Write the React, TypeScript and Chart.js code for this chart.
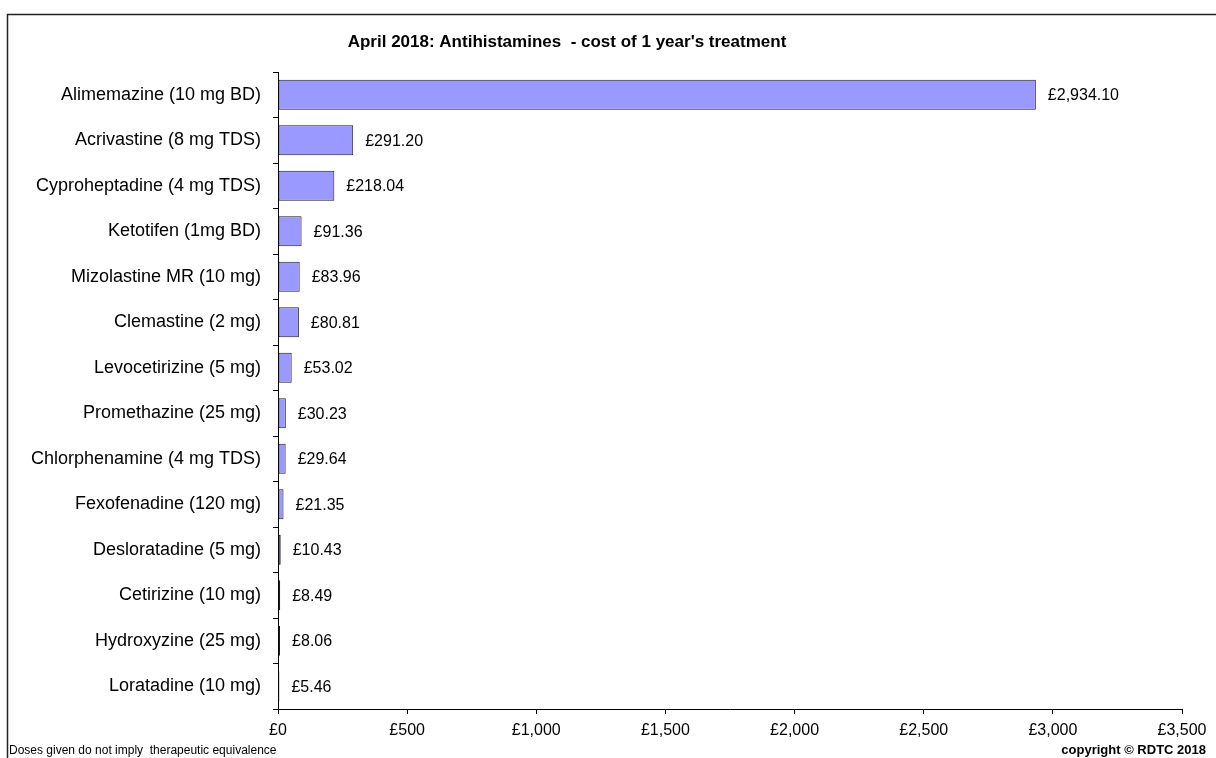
import React, { useEffect, useRef } from "react";
import { Chart, registerables } from "chart.js";

Chart.register(...registerables);

const categories: string[] = [
  "Alimemazine (10 mg BD)",
  "Acrivastine (8 mg TDS)",
  "Cyproheptadine (4 mg TDS)",
  "Ketotifen (1mg BD)",
  "Mizolastine MR (10 mg)",
  "Clemastine (2 mg)",
  "Levocetirizine (5 mg)",
  "Promethazine (25 mg)",
  "Chlorphenamine (4 mg TDS)",
  "Fexofenadine (120 mg)",
  "Desloratadine (5 mg)",
  "Cetirizine (10 mg)",
  "Hydroxyzine (25 mg)",
  "Loratadine (10 mg)",
];

const costs: number[] = [
  2934.1, 291.2, 218.04, 91.36, 83.96, 80.81, 53.02, 30.23, 29.64, 21.35, 10.43, 8.49, 8.06, 5.46,
];

const xTicks: number[] = [0, 500, 1000, 1500, 2000, 2500, 3000, 3500];

const titleText = "April 2018: Antihistamines  - cost of 1 year's treatment";
const footerLeft = "Doses given do not imply  therapeutic equivalence";
const footerRight = "copyright \u00A9 RDTC 2018";

const FONT = "Arial, 'Liberation Sans', sans-serif";

const fmtMoney = (v: number) =>
  "£" + v.toLocaleString("en-GB", { minimumFractionDigits: 2, maximumFractionDigits: 2 });
const fmtTick = (v: number) => "£" + v.toLocaleString("en-GB");

const decorPlugin = {
  id: "decor",
  beforeDraw(chart: any) {
    const ctx = chart.ctx;
    ctx.save();
    ctx.fillStyle = "#ffffff";
    ctx.fillRect(0, 0, chart.width, chart.height);
    ctx.strokeStyle = "#222222";
    ctx.lineWidth = 1.5;
    ctx.strokeRect(7.5, 14.5, chart.width + 20, chart.height + 20);
    ctx.restore();
  },
  afterDraw(chart: any) {
    const ctx = chart.ctx;
    ctx.save();
    // title
    ctx.fillStyle = "#000";
    ctx.font = `bold 17px ${FONT}`;
    ctx.textAlign = "center";
    ctx.textBaseline = "middle";
    ctx.fillText(titleText, 567, 42);
    // value labels
    const meta = chart.getDatasetMeta(0);
    ctx.font = `16px ${FONT}`;
    ctx.textAlign = "left";
    meta.data.forEach((bar: any, i: number) => {
      ctx.fillText(fmtMoney(costs[i]), bar.x + 12, bar.y + 1);
    });
    // footers
    ctx.font = `12px ${FONT}`;
    ctx.textAlign = "left";
    ctx.textBaseline = "alphabetic";
    ctx.fillText(footerLeft, 9, 754);
    ctx.font = `bold 13px ${FONT}`;
    ctx.textAlign = "right";
    ctx.fillText(footerRight, 1206, 754);
    ctx.restore();
  },
};

export default function App() {
  const ref = useRef<HTMLCanvasElement | null>(null);

  useEffect(() => {
    if (!ref.current) return;
    const chart = new Chart(ref.current, {
      type: "bar",
      data: {
        labels: categories,
        datasets: [
          {
            data: costs,
            backgroundColor: "#9999FF",
            borderColor: "#1a1a2a",
            borderWidth: 1,
            borderSkipped: false,
            barPercentage: 0.66,
            categoryPercentage: 1,
          },
        ],
      },
      options: {
        indexAxis: "y",
        responsive: false,
        animation: false,
        devicePixelRatio: 1,
        layout: { padding: { top: 72, right: 34, bottom: 9, left: 0 } },
        plugins: {
          legend: { display: false },
          tooltip: { enabled: false },
          title: { display: false },
        },
        scales: {
          x: {
            type: "linear",
            min: 0,
            max: 3500,
            afterBuildTicks: (scale: any) => {
              scale.ticks = xTicks.map((v) => ({ value: v }));
            },
            afterFit: (scale: any) => {
              scale.height = 40;
            },
            grid: {
              drawOnChartArea: false,
              drawTicks: true,
              tickLength: 5,
              color: "#000",
            },
            border: { display: true, color: "#000", width: 1 },
            ticks: {
              color: "#000",
              font: { family: FONT, size: 16 },
              padding: 7,
              maxRotation: 0,
              callback: (v: any) => fmtTick(Number(v)),
            },
          },
          y: {
            type: "category",
            afterFit: (scale: any) => {
              scale.width = 278;
            },
            grid: {
              offset: true,
              drawOnChartArea: false,
              drawTicks: true,
              tickLength: 5,
              color: "#000",
            },
            border: { display: true, color: "#000", width: 1 },
            ticks: {
              color: "#000",
              font: { family: FONT, size: 18 },
              padding: 12,
            },
          },
        },
      },
      plugins: [decorPlugin],
    });
    return () => chart.destroy();
  }, []);

  return (
    <div style={{ position: "absolute", left: 0, top: 0, width: 1216, height: 758 }}>
      <canvas ref={ref} width={1216} height={758} style={{ width: 1216, height: 758, display: "block" }} />
    </div>
  );
}
